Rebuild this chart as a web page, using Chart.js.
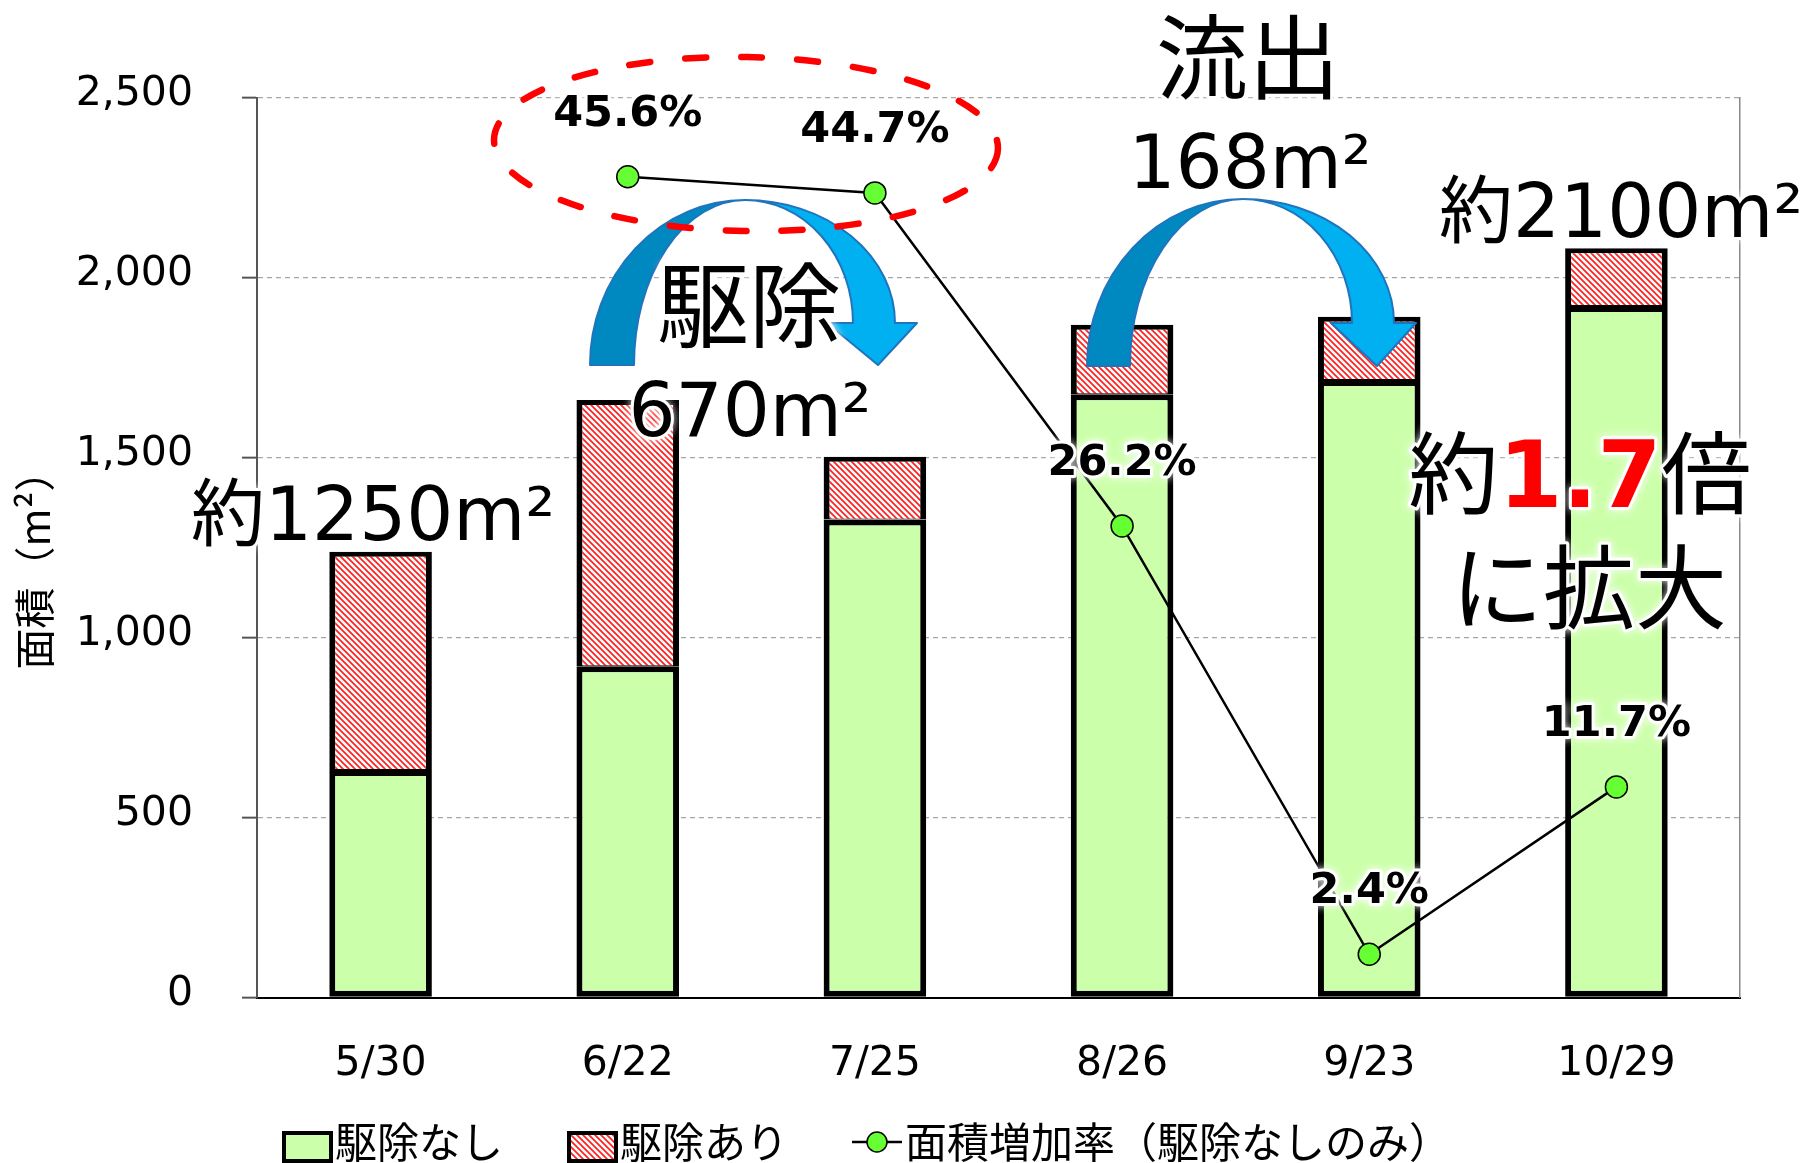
<!DOCTYPE html>
<html lang="ja">
<head>
<meta charset="utf-8">
<title>面積の推移</title>
<script src="https://cdn.jsdelivr.net/npm/chart.js@4.4.1/dist/chart.umd.min.js"></script>
<style>
  html, body { margin: 0; padding: 0; background: #fff; }
  canvas { display: block; }
</style>
</head>
<body>
<canvas id="chart" width="1808" height="1163"></canvas>
<script>
"use strict";

// data
var labels = ['5/30', '6/22', '7/25', '8/26', '9/23', '10/29'];
var untreated = [632, 920, 1328, 1676, 1715, 1921];   // 駆除なし
var treated = [606, 740, 174, 193, 176, 160];         // 駆除あり
var growthRate = [null, 45.6, 44.7, 26.2, 2.4, 11.7]; // 面積増加率（%）
var yTicks = [0, 500, 1000, 1500, 2000, 2500];

var LATIN = '"DejaVu Sans", "Noto Sans CJK JP", sans-serif';
var CJK = '"Noto Sans CJK JP", "DejaVu Sans", sans-serif';

function makeHatch() {
	var c = document.createElement('canvas');
	c.width = 6;
	c.height = 6;
	var g = c.getContext('2d');
	g.fillStyle = '#fff';
	g.fillRect(0, 0, 6, 6);
	g.strokeStyle = '#ff2020';
	g.lineWidth = 1.7;
	g.beginPath();
	[-6, 0, 6].forEach(function(k) {
		g.moveTo(k - 1, -1);
		g.lineTo(k + 7, 7);
	});
	g.stroke();
	return g.createPattern(c, 'repeat');
}

function glowText(ctx, text, x, y, font, color, align) {
	ctx.save();
	ctx.font = font;
	ctx.textAlign = align || 'center';
	ctx.textBaseline = 'alphabetic';
	ctx.shadowColor = 'rgba(255,255,255,0.95)';
	ctx.shadowBlur = 8;
	ctx.strokeStyle = '#fff';
	ctx.lineWidth = 6;
	ctx.lineJoin = 'round';
	ctx.strokeText(text, x, y);
	ctx.shadowBlur = 0;
	ctx.fillStyle = color;
	ctx.fillText(text, x, y);
	ctx.restore();
}

function curvedArrow(ctx, a) {
	ctx.save();
	ctx.lineWidth = 2;
	ctx.strokeStyle = '#1f74bd';
	ctx.lineJoin = 'round';
	// back half
	ctx.beginPath();
	ctx.ellipse(a.cx, a.footY, a.cx - a.footOut, a.footY - a.top, 0, Math.PI, Math.PI * 1.5);
	ctx.ellipse(a.cx, a.footY, a.cx - a.footIn, a.footY - a.top, 0, Math.PI * 1.5, Math.PI, true);
	ctx.closePath();
	ctx.fillStyle = '#0089c1';
	ctx.fill();
	ctx.stroke();
	// front half with head
	ctx.beginPath();
	ctx.ellipse(a.cx, a.headY, a.endOut - a.cx, a.headY - a.top, 0, Math.PI * 1.5, Math.PI * 2);
	ctx.lineTo(a.headR, a.headY);
	ctx.lineTo(a.tipX, a.tipY);
	ctx.lineTo(a.headL, a.headY);
	ctx.ellipse(a.cx, a.headY, a.endIn - a.cx, a.headY - a.top, 0, 0, Math.PI * 1.5, true);
	ctx.closePath();
	ctx.fillStyle = '#00b0f0';
	ctx.fill();
	ctx.stroke();
	ctx.restore();
}

var hatch = makeHatch();

var annotations = {
	id: 'annotations',
	afterDatasetsDraw: function(chart) {
		var ctx = chart.ctx;

		curvedArrow(ctx, {cx: 745, top: 200, footY: 365, footOut: 590, footIn: 634,
			headY: 323, endOut: 895, endIn: 853, headL: 827, headR: 917, tipX: 878, tipY: 365});
		curvedArrow(ctx, {cx: 1243, top: 199, footY: 366, footOut: 1087, footIn: 1130,
			headY: 323, endOut: 1394, endIn: 1352, headL: 1331, headR: 1416, tipX: 1377, tipY: 366});

		// dashed ellipse round the first two rates
		ctx.save();
		ctx.strokeStyle = '#ff0000';
		ctx.lineWidth = 6.5;
		ctx.lineCap = 'round';
		ctx.setLineDash([21, 35]);
		ctx.beginPath();
		ctx.ellipse(746, 144, 252, 87, 0.018, 0, Math.PI * 2);
		ctx.stroke();
		ctx.restore();

		// rate labels
		var meta = chart.getDatasetMeta(0);
		meta.data.forEach(function(pt, i) {
			if (growthRate[i] === null) return;
			glowText(ctx, growthRate[i].toFixed(1) + '%', pt.x, pt.y - 51, 'bold 43px ' + LATIN, '#000');
		});

		// big notes
		glowText(ctx, '流出', 1248, 92, '92px ' + CJK, '#000');
		glowText(ctx, '168m²', 1250, 188, '74px ' + LATIN, '#000');
		glowText(ctx, '約2100m²', 1439, 237, '74px ' + LATIN, '#000', 'left');
		glowText(ctx, '駆除', 749, 340, '92px ' + CJK, '#000');
		glowText(ctx, '670m²', 750, 436, '74px ' + LATIN, '#000');
		glowText(ctx, '約1250m²', 191, 540, '74px ' + LATIN, '#000', 'left');

		var parts = [
			{t: '約', font: '90px ' + CJK, color: '#000'},
			{t: '1.7', font: 'bold 92px ' + LATIN, color: '#ff0000'},
			{t: '倍', font: '90px ' + CJK, color: '#000'}
		];
		var total = 0;
		parts.forEach(function(p) {
			ctx.font = p.font;
			p.w = ctx.measureText(p.t).width;
			total += p.w;
		});
		var px = 1580 - total / 2;
		parts.forEach(function(p) {
			glowText(ctx, p.t, px, 507, p.font, p.color, 'left');
			px += p.w;
		});
		glowText(ctx, 'に拡大', 1589, 622, '92px ' + CJK, '#000');
	},
	afterDraw: function(chart) {
		var ctx = chart.ctx;

		// axis title
		ctx.save();
		ctx.translate(34, 560);
		ctx.rotate(-Math.PI / 2);
		ctx.font = '41px ' + CJK;
		ctx.fillStyle = '#000';
		ctx.textAlign = 'center';
		ctx.textBaseline = 'middle';
		ctx.fillText('面積（m²）', 0, 0);
		ctx.restore();

		// legend
		ctx.save();
		ctx.font = '42px ' + CJK;
		ctx.fillStyle = '#000';
		ctx.textBaseline = 'alphabetic';
		ctx.lineWidth = 4;
		ctx.strokeStyle = '#000';

		ctx.fillStyle = '#ccffaa';
		ctx.fillRect(284, 1133, 47, 28);
		ctx.strokeRect(284, 1133, 47, 28);
		ctx.fillStyle = '#000';
		ctx.fillText(chart.data.datasets[1].label, 335, 1158);

		ctx.fillStyle = hatch;
		ctx.fillRect(569, 1133, 47, 28);
		ctx.strokeRect(569, 1133, 47, 28);
		ctx.fillStyle = '#000';
		ctx.fillText(chart.data.datasets[2].label, 620, 1158);

		ctx.lineWidth = 2.5;
		ctx.beginPath();
		ctx.moveTo(852, 1142);
		ctx.lineTo(902, 1142);
		ctx.stroke();
		ctx.beginPath();
		ctx.arc(877, 1142, 10, 0, Math.PI * 2);
		ctx.fillStyle = '#66ff33';
		ctx.fill();
		ctx.lineWidth = 1.5;
		ctx.stroke();
		ctx.fillStyle = '#000';
		ctx.fillText(chart.data.datasets[0].label, 905, 1158);
		ctx.restore();
	}
};

var ctx = document.getElementById('chart').getContext('2d');
new Chart(ctx, {
	data: {
		labels: labels,
		datasets: [{
			type: 'line',
			label: '面積増加率（駆除なしのみ）',
			data: growthRate,
			yAxisID: 'y1',
			order: 0,
			borderColor: '#000',
			borderWidth: 2.5,
			tension: 0,
			pointRadius: 11,
			pointBackgroundColor: '#66ff33',
			pointBorderColor: '#000',
			pointBorderWidth: 1.5
		}, {
			type: 'bar',
			label: '駆除なし',
			data: untreated,
			order: 1,
			backgroundColor: '#ccffaa',
			borderColor: '#000',
			borderWidth: 6,
			borderSkipped: false,
			categoryPercentage: 1,
			barPercentage: 0.415
		}, {
			type: 'bar',
			label: '駆除あり',
			data: treated,
			order: 1,
			backgroundColor: hatch,
			borderColor: '#000',
			borderWidth: {top: 5, left: 6, right: 6, bottom: 1},
			borderSkipped: false,
			categoryPercentage: 1,
			barPercentage: 0.415
		}]
	},
	options: {
		responsive: false,
		animation: false,
		locale: 'en-US',
		layout: {
			padding: {top: 97.5, left: 0, right: 0, bottom: 0}
		},
		plugins: {
			legend: {display: false},
			tooltip: {enabled: false}
		},
		scales: {
			x: {
				stacked: true,
				grid: {display: false, drawTicks: false},
				border: {color: '#000', width: 2},
				ticks: {color: '#000', font: {family: LATIN, size: 41}, padding: 42},
				afterFit: function(scale) { scale.height = 1163 - 997.5; }
			},
			y: {
				stacked: true,
				position: 'left',
				min: 0,
				max: 2500,
				afterBuildTicks: function(scale) {
					scale.ticks = yTicks.map(function(v) { return {value: v}; });
				},
				grid: {color: '#a6a6a6', lineWidth: 1.3, tickLength: 15, tickColor: '#555', tickWidth: 2, tickBorderDash: []},
				border: {color: '#555', width: 2, dash: [5, 4]},
				ticks: {color: '#000', font: {family: LATIN, size: 41}, padding: 49, labelOffset: -3},
				afterFit: function(scale) { scale.width = 257; }
			},
			y1: {
				position: 'right',
				min: 0,
				max: 50,
				grid: {display: false, drawTicks: false},
				ticks: {display: false},
				border: {color: '#888', width: 1.5},
				afterFit: function(scale) { scale.width = 68; }
			}
		}
	},
	plugins: [annotations]
});
</script>
</body>
</html>
